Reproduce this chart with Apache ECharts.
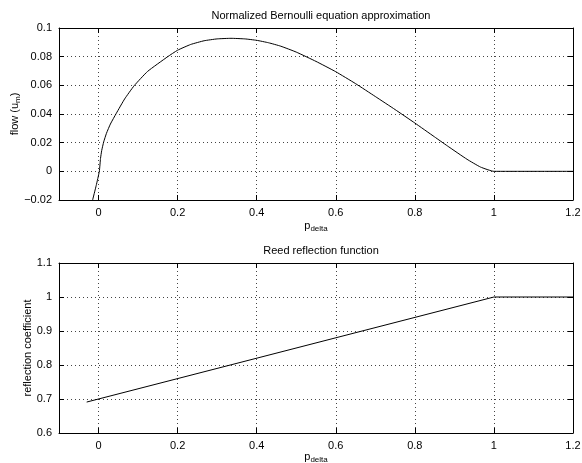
<!DOCTYPE html>
<html>
<head>
<meta charset="utf-8">
<title>Bernoulli / Reed</title>
<script src="https://cdn.jsdelivr.net/npm/echarts@6/dist/echarts.min.js"></script>
<style>
  html, body { margin: 0; padding: 0; background: #fff; }
  #main { width: 582px; height: 463px; }
</style>
</head>
<body>
<div id="main"></div>
<script>
// top plot: flow vs p_delta
var flowX = [-0.015, -0.006, 0.002, 0.005, 0.008, 0.013, 0.02, 0.03, 0.045, 0.066, 0.09, 0.124, 0.175, 0.2,
  0.233, 0.267, 0.3, 0.335, 0.37, 0.4, 0.43, 0.461, 0.5, 0.55, 0.6, 0.65, 0.7, 0.75, 0.8,
  0.85, 0.882, 0.932, 0.966, 1, 1.2];
var flowY = [-0.02, -0.01, 0, 0.009, 0.0145, 0.0205, 0.0265, 0.033, 0.0405, 0.0505, 0.0597, 0.0697, 0.08, 0.0845,
  0.0885, 0.0911, 0.0924, 0.0928, 0.0924, 0.0914, 0.0897, 0.0873, 0.0832, 0.0767, 0.0695, 0.0612, 0.0522, 0.0431, 0.0337,
  0.024, 0.0178, 0.0084, 0.003, 0, 0];

// bottom plot: reflection coefficient
var reedX = [-0.03, 1, 1.2];
var reedY = [0.691, 1, 1];

var xTicks = [0, 0.2, 0.4, 0.6, 0.8, 1, 1.2];
var flowTicks = [-0.02, 0, 0.02, 0.04, 0.06, 0.08, 0.1];
var reedTicks = [0.6, 0.7, 0.8, 0.9, 1, 1.1];

function pairs(xs, ys) {
  var out = [];
  for (var i = 0; i < xs.length; i++) out.push([xs[i], ys[i]]);
  return out;
}

var font = 'Liberation Sans, Arial, sans-serif';
var dots = { show: true, lineStyle: { color: '#444', type: [1, 3], width: 1 } };
var tickIn = function (vals) {
  return { show: true, inside: true, length: 5, customValues: vals, lineStyle: { color: '#000' } };
};
var label = function (vals, fmt) {
  return { show: true, customValues: vals, color: '#000', fontSize: 11, fontFamily: font, margin: 7, formatter: fmt };
};
var fmtNum = function (v) {
  var s = String(Math.round(v * 1000) / 1000);
  return s.replace('-', '\u2212');
};
var rich = {
  a: { fontSize: 11, fontFamily: font, color: '#000' },
  b: { fontSize: 8, fontFamily: font, color: '#000', verticalAlign: 'bottom', padding: [6, 0, 0, 0] }
};

function xAxes(grid, gap) {
  return [{
    type: 'value', gridIndex: grid, min: -0.1, max: 1.2,
    name: '{a|p}{b|delta}', nameLocation: 'middle', nameGap: gap, nameMoveOverlap: false,
    nameTextStyle: { rich: rich },
    axisLine: { show: true, onZero: false, lineStyle: { color: '#000' } },
    axisTick: tickIn(xTicks), axisLabel: label(xTicks, fmtNum), splitLine: dots
  }, {
    type: 'value', gridIndex: grid, min: -0.1, max: 1.2, position: 'top',
    axisLine: { show: true, onZero: false, lineStyle: { color: '#000' } },
    axisTick: tickIn(xTicks), axisLabel: { show: false }, splitLine: { show: false }
  }];
}

function yAxes(grid, mn, mx, ticks, name, gap) {
  return [{
    type: 'value', gridIndex: grid, min: mn, max: mx,
    name: name, nameLocation: 'middle', nameGap: gap, nameMoveOverlap: false,
    nameTextStyle: { rich: rich },
    axisLine: { show: true, onZero: false, lineStyle: { color: '#000' } },
    axisTick: tickIn(ticks), axisLabel: label(ticks, fmtNum), splitLine: dots
  }, {
    type: 'value', gridIndex: grid, min: mn, max: mx, position: 'right',
    axisLine: { show: true, onZero: false, lineStyle: { color: '#000' } },
    axisTick: tickIn(ticks), axisLabel: { show: false }, splitLine: { show: false }
  }];
}

var chart = echarts.init(document.getElementById('main'));
chart.setOption({
  animation: false,
  backgroundColor: '#fff',
  title: [
    { text: 'Normalized Bernoulli equation approximation', left: 316, top: 5, textAlign: 'center',
      textStyle: { fontSize: 11, fontWeight: 'normal', fontFamily: font, color: '#000' } },
    { text: 'Reed reflection function', left: 316, top: 240, textAlign: 'center',
      textStyle: { fontSize: 11, fontWeight: 'normal', fontFamily: font, color: '#000' } }
  ],
  grid: [
    { left: 59, top: 28, width: 514, height: 172, outerBoundsMode: 'none', containLabel: false },
    { left: 59, top: 263, width: 514, height: 170, outerBoundsMode: 'none', containLabel: false }
  ],
  xAxis: xAxes(0, 19).concat(xAxes(1, 17)),
  yAxis: yAxes(0, -0.02, 0.1, flowTicks, '{a|flow (u}{b|m}{a|)}', 37)
    .concat(yAxes(1, 0.6, 1.1, reedTicks, '{a|reflection coefficient}', 26)),
  series: [
    { type: 'line', xAxisIndex: 0, yAxisIndex: 0, data: pairs(flowX, flowY), smooth: 0.15,
      showSymbol: false, lineStyle: { color: '#000', width: 1 } },
    { type: 'line', xAxisIndex: 2, yAxisIndex: 2, data: pairs(reedX, reedY),
      showSymbol: false, lineStyle: { color: '#000', width: 1 } }
  ]
});
</script>
</body>
</html>
